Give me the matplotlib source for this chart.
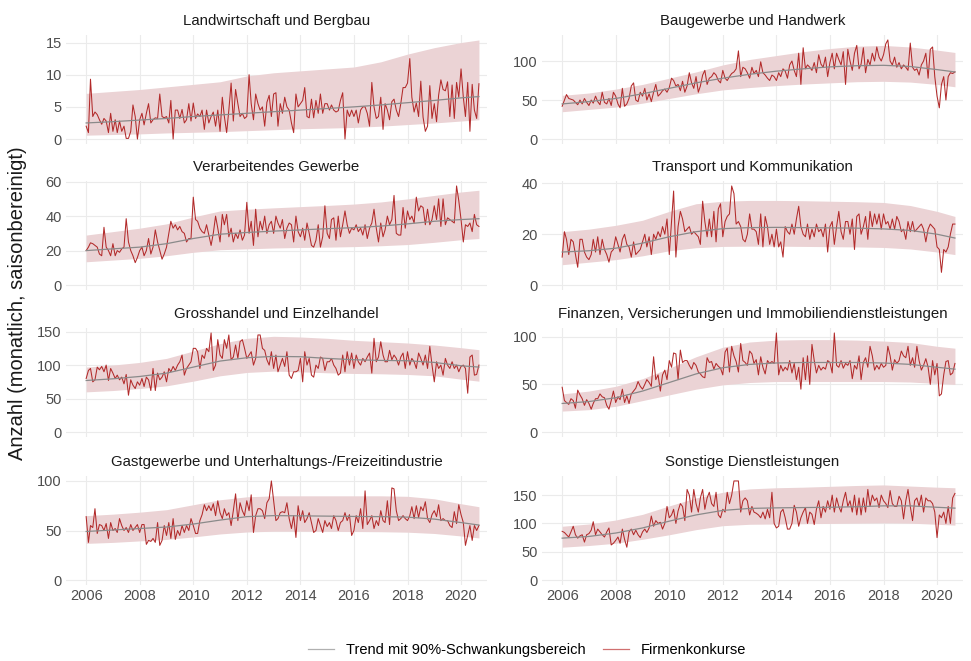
import numpy as np
import pandas as pd
import matplotlib
matplotlib.use("Agg")
import matplotlib.pyplot as plt
import matplotlib.dates as mdates
from matplotlib.ticker import MultipleLocator
from matplotlib.lines import Line2D

plt.rcParams['font.family'] = ['Liberation Sans', 'DejaVu Sans']

# --- Daten (monatlich, Jan 2006 - Sep 2020) ---
MONTHS = pd.date_range("2006-01-01", "2020-09-01", freq="MS")
# Stützstellen für Trend und Schwankungsbereich (jeweils Januar, plus Sep 2020)
KNOTS = list(pd.date_range("2006-01-01", "2020-01-01", freq="YS")) + [pd.Timestamp("2020-09-01")]

TITLES = [
    "Landwirtschaft und Bergbau",
    "Baugewerbe und Handwerk",
    "Verarbeitendes Gewerbe",
    "Transport und Kommunikation",
    "Grosshandel und Einzelhandel",
    "Finanzen, Versicherungen und Immobiliendienstleistungen",
    "Gastgewerbe und Unterhaltungs-/Freizeitindustrie",
    "Sonstige Dienstleistungen",
]

landwirtschaft = [
    2, 1, 9.3, 3.5, 4.2, 3.8, 3, 2.3, 3.2, 2.8, 1, 4,
    1.2, 3, 1, 2.8, 1.2, 2, 0.1, 0.1, 1.2, 5.3, 3.5, 0,
    3, 4, 2.2, 4, 5.5, 2.5, 3, 3.3, 3.2, 7, 3.5, 3.3,
    3.5, 2.5, 6, 0, 4.5, 4.5, 3.2, 4.6, 2.5, 3, 5.5, 2.8,
    5.6, 3.2, 3.9, 3.5, 4.5, 1.5, 4.5, 2.5, 3.5, 4.2, 2, 4.5,
    1.2, 6.5, 3.5, 1, 4.5, 8.7, 2.8, 7.7, 5.5, 3.5, 4, 3.2,
    3.5, 10, 5.5, 3, 7, 5.5, 4.5, 5, 2, 5.7, 6.8, 3.5,
    7, 7.2, 2, 5.5, 4, 6.5, 5, 4.5, 2.5, 1, 7, 5,
    5.5, 6, 8, 3.5, 3.3, 6.2, 3.3, 6, 4, 7, 4, 5.5,
    5.5, 4.5, 5.3, 4.5, 4.2, 4.4, 6, 7.2, 0, 4.5, 3.5, 4.5,
    3.5, 4.5, 2.5, 4.5, 5, 5, 4, 2, 8.8, 5, 3.2, 3.5,
    6.5, 1.5, 5.5, 4.5, 3, 5.8, 6.2, 4.5, 3.5, 5.5, 8, 8,
    8.7, 12.5, 6.5, 4.2, 5.6, 3.5, 9, 3.4, 1.2, 2, 8.3, 3.2,
    5.5, 2.7, 6.8, 9.2, 7.7, 7.5, 8.9, 3.5, 8.4, 3.2, 8.8, 6.5,
    10.9, 6.5, 3.5, 8.8, 1.2, 8.5, 4.5, 3.2, 8.6,
]
baugewerbe = [
    42, 50, 57, 52, 51, 50, 47, 44, 50, 45, 52, 47,
    43, 50, 46, 55, 48, 44, 60, 47, 45, 52, 43, 60,
    55, 45, 40, 65, 42, 45, 52, 68, 72, 50, 48, 60,
    55, 65, 50, 58, 48, 60, 70, 55, 58, 62, 64, 60,
    66, 78, 75, 68, 70, 62, 74, 60, 68, 85, 72, 65,
    80, 60, 68, 82, 88, 70, 78, 80, 85, 82, 75, 72,
    88, 78, 75, 80, 84, 86, 90, 113, 80, 92, 90, 85,
    78, 92, 84, 88, 80, 99, 85, 82, 78, 75, 82, 80,
    75, 85, 80, 90, 87, 78, 95, 100, 88, 80, 110, 70,
    117, 90, 95, 92, 88, 98, 85, 108, 96, 92, 105, 80,
    98, 110, 90, 110, 102, 95, 112, 70, 115, 100, 88, 110,
    120, 90, 96, 117, 85, 102, 95, 110, 100, 118, 105, 100,
    108, 122, 127, 100, 95, 105, 92, 98, 90, 95, 92, 88,
    123, 92, 88, 90, 82, 95, 100, 110, 78, 115, 118, 80,
    55, 40, 70, 80, 50, 80, 85, 84, 86,
]
verarbeitend = [
    20, 22, 24.5, 24, 23, 22, 18, 17, 33.5, 22, 20, 17,
    24, 17, 20, 19, 21, 22, 38.5, 25, 20, 17, 13, 16,
    20, 22, 17, 20, 27, 18, 22, 32, 25, 20, 15, 18,
    22, 30, 37, 33, 35, 32, 34, 31, 30, 25, 27, 27,
    51, 38, 37, 33, 31, 30, 35, 29, 23, 30, 40, 33,
    25, 41, 35, 41, 28, 33, 25, 30, 27, 32, 26, 29,
    48, 30, 37, 23, 44, 28, 37, 32, 40, 30, 35, 37,
    30, 40, 36, 33, 38, 27, 33, 36, 35, 25, 40, 31,
    28, 33, 26, 36, 30, 23, 22, 26, 35, 22, 28, 46,
    30, 27, 38, 39, 26, 40, 28, 35, 43, 35, 30, 33,
    32, 35, 31, 33, 29, 35, 27, 33, 36, 44, 33, 25,
    36, 28, 32, 40, 35, 38, 52, 30, 29, 29, 45, 33,
    43, 38, 40, 36, 51, 43, 46, 45, 35, 44, 35, 38,
    46, 38, 50, 34, 50, 35, 39, 38, 37, 36, 57.5, 49,
    38, 25, 35, 34, 36, 31, 41, 35, 34,
]
transport = [
    11, 21, 18, 12, 18, 17, 12, 7, 18, 18, 13, 11,
    10, 12, 18, 13, 19, 12, 18, 14, 12, 9, 13, 14,
    19, 16, 13, 18, 20, 16, 15, 11, 17, 12, 13, 14,
    17, 20, 15, 19, 12, 20, 18, 21, 19, 23, 20, 26,
    12, 25, 37, 11, 23, 29, 26, 21, 22, 23, 20, 21,
    20, 19, 16, 33, 25, 19, 26, 19, 29, 17, 30, 32,
    19, 25, 27, 28, 39, 36, 24, 25, 23, 18, 17, 20,
    28, 22, 22, 21, 16, 28, 15, 27, 23, 16, 20, 15,
    22, 15, 17, 11, 23, 21, 20, 24, 20, 26, 31, 23,
    20, 19, 24, 18, 22, 19, 24, 21, 22, 19, 24, 13,
    23, 25, 16, 23, 29, 21, 18, 25, 25, 20, 26, 14,
    27, 28, 20, 23, 27, 18, 29, 23, 28, 24, 28, 22,
    28, 24, 25, 22, 26, 22, 27, 25, 21, 22, 18, 25,
    21, 25, 21, 22, 23, 24, 22, 17, 22, 24, 23, 22,
    15, 14, 5, 14, 13, 15, 20, 24, 24,
]
handel = [
    80, 92, 95, 75, 78, 97, 93, 98, 90, 100, 77, 95,
    88, 80, 85, 78, 82, 72, 86, 55, 78, 70, 65, 75,
    70, 80, 68, 82, 78, 62, 95, 62, 88, 78, 82, 90,
    75, 95, 90, 98, 92, 100, 105, 115, 85, 95, 100, 105,
    125, 125, 120, 95, 115, 110, 125, 120, 148, 92, 100, 138,
    115, 110, 138, 125, 145, 108, 112, 130, 110, 135, 138, 125,
    110, 115, 120, 100, 110, 145, 145, 125, 122, 108, 100, 120,
    95, 115, 90, 100, 110, 98, 120, 85, 80, 90, 90, 92,
    110, 75, 120, 100, 110, 85, 82, 100, 95, 112, 110, 92,
    105, 105, 110, 100, 95, 85, 88, 115, 90, 120, 100, 118,
    95, 115, 105, 100, 110, 105, 112, 118, 88, 140, 105, 112,
    135, 115, 105, 105, 122, 108, 115, 110, 100, 112, 118, 95,
    120, 100, 110, 105, 95, 118, 110, 100, 115, 95, 128, 100,
    75, 105, 95, 100, 85, 110, 100, 95, 105, 95, 100, 90,
    98, 100, 95, 58, 112, 115, 85, 86, 100,
]
finanzen = [
    47, 33, 31, 29, 35, 33, 25, 44, 39, 35, 28, 34,
    30, 24, 30, 35, 35, 40, 37, 36, 28, 24, 33, 43,
    31, 37, 34, 45, 31, 38, 30, 40, 43, 46, 53, 48,
    45, 50, 55, 52, 48, 79, 55, 60, 43, 60, 65, 55,
    75, 68, 83, 82, 55, 86, 73, 75, 75, 70, 66, 73,
    70, 63, 61, 58, 57, 78, 73, 74, 66, 72, 69, 67,
    60, 84, 88, 63, 90, 80, 74, 63, 93, 75, 73, 70,
    85, 82, 72, 76, 60, 79, 68, 61, 75, 72, 74, 72,
    104, 60, 70, 64, 68, 65, 75, 62, 72, 55, 68, 45,
    78, 55, 80, 50, 92, 75, 62, 70, 65, 68, 66, 75,
    73, 62, 104, 70, 68, 75, 67, 72, 70, 75, 56, 70,
    66, 80, 55, 73, 78, 68, 90, 80, 65, 70, 66, 72,
    68, 70, 90, 80, 65, 76, 72, 75, 85, 80, 78, 90,
    70, 78, 68, 90, 75, 65, 70, 77, 68, 50, 75, 60,
    72, 38, 40, 60, 74, 75, 60, 62, 72,
]
gastgewerbe = [
    64, 38, 55, 53, 72, 47, 56, 55, 50, 57, 42, 58,
    50, 52, 48, 62, 55, 50, 53, 48, 56, 50, 53, 56,
    48, 56, 56, 36, 40, 39, 42, 38, 58, 35, 40, 55,
    45, 58, 42, 62, 41, 50, 45, 55, 48, 55, 50, 62,
    55, 47, 47, 60, 66, 76, 70, 75, 70, 77, 65, 80,
    68, 62, 72, 65, 68, 55, 70, 87, 60, 78, 70, 65,
    80, 70, 86, 48, 65, 72, 72, 70, 62, 78, 82, 100,
    80, 60, 62, 68, 69, 68, 78, 62, 52, 65, 43, 75,
    60, 70, 58, 62, 68, 58, 48, 50, 62, 55, 48, 60,
    54, 58, 52, 65, 60, 50, 58, 60, 68, 60, 66, 45,
    50, 65, 58, 72, 52, 90, 56, 60, 65, 52, 60, 55,
    70, 60, 58, 80, 56, 93, 92, 70, 60, 62, 65, 62,
    60, 65, 74, 62, 75, 63, 74, 70, 79, 62, 58, 66,
    70, 64, 76, 60, 62, 60, 60, 55, 53, 69, 57, 76,
    66, 58, 35, 45, 55, 40, 55, 50, 55,
]
sonstige = [
    86, 84, 80, 76, 85, 95, 80, 74, 78, 80, 67, 80,
    82, 88, 103, 80, 90, 85, 80, 76, 85, 92, 62, 65,
    70, 76, 65, 90, 72, 58, 85, 90, 80, 88, 80, 75,
    85, 90, 84, 92, 113, 95, 105, 100, 102, 90, 100, 130,
    110, 115, 125, 100, 122, 135, 130, 105, 160, 150, 120, 160,
    135, 120, 145, 160, 125, 145, 155, 135, 130, 155, 115, 110,
    125, 120, 155, 135, 150, 175, 175, 175, 120, 140, 145, 140,
    115, 130, 120, 118, 115, 110, 120, 108, 125, 110, 155, 100,
    92, 95, 120, 125, 110, 90, 90, 100, 132, 120, 95, 110,
    120, 128, 100, 120, 116, 98, 125, 140, 110, 130, 120, 140,
    125, 150, 120, 145, 130, 120, 140, 155, 130, 140, 120, 150,
    115, 145, 115, 145, 120, 160, 130, 150, 140, 145, 128, 150,
    140, 135, 128, 158, 135, 130, 130, 148, 140, 108, 140, 160,
    130, 105, 140, 145, 130, 150, 120, 145, 140, 140, 135, 120,
    75, 115, 110, 120, 100, 130, 100, 145, 153,
]

# Trend / unterer / oberer Rand je Sektor an den Stützstellen
trend_lw = [2.5, 2.7, 2.95, 3.2, 3.5, 3.75, 4.0, 4.25, 4.5, 4.75, 5.0, 5.3, 5.65, 6.0, 6.4, 6.6]
lo_lw = [0.6, 0.7, 0.8, 0.95, 1.05, 1.15, 1.3, 1.45, 1.6, 1.7, 1.8, 2.0, 2.25, 2.5, 2.8, 3.0]
hi_lw = [7.1, 7.4, 7.7, 8.1, 8.5, 8.9, 9.8, 10.3, 10.6, 10.9, 11.2, 12.0, 13.2, 14.2, 15.0, 15.4]

trend_bau = [45, 48, 52, 58, 65, 72, 78, 83, 87, 90, 92.5, 94, 94.5, 93, 89, 86]
lo_bau = [35, 38, 41, 46, 52, 58, 63, 66, 68.5, 70.5, 72, 73.5, 74, 73, 70, 67]
hi_bau = [56, 59, 64, 70, 78, 86, 95, 102, 107, 112, 116, 119, 120, 118, 114, 111]

trend_vg = [20, 21, 22, 24, 27, 29.5, 30.5, 31.3, 32, 32.7, 33.3, 34.2, 35.5, 37, 38, 38.5]
lo_vg = [13.5, 14.5, 15.5, 17, 19, 20.5, 21, 21.5, 21.8, 22, 22.3, 22.8, 23.5, 24.8, 26.3, 27]
hi_vg = [29, 31, 33, 35.5, 39.5, 43, 44, 44.8, 45.5, 46.2, 47, 48.2, 50, 52, 54, 55]

trend_tk = [13, 13.5, 14.5, 16.5, 19, 21, 22.2, 22.6, 22.7, 22.6, 22.5, 22.4, 22.1, 21.5, 20, 18.5]
lo_tk = [8, 9, 10, 11.5, 13.5, 14.7, 15.2, 15.3, 15.3, 15.2, 15.1, 15.0, 14.8, 14.2, 13, 12]
hi_tk = [21, 22, 23.5, 25.5, 29, 32, 33, 33.3, 33.3, 33.2, 33, 32.8, 32.5, 31.3, 29, 27]

trend_he = [77, 79.5, 83, 88, 97, 106, 111, 113, 112.5, 110, 108, 107, 106.5, 104, 99, 97]
lo_he = [60, 62, 65, 69, 76, 84, 89, 91, 90, 88.5, 87.5, 87, 86, 84, 79, 76]
hi_he = [97, 100, 104, 110, 121, 132, 140, 143, 142, 140, 137, 135, 133, 130, 126, 123]

trend_fi = [30, 32, 36, 43, 52, 61, 67.5, 71, 72.5, 73, 73, 73, 72.5, 71, 68, 66]
lo_fi = [22, 23.5, 27, 33, 39, 45, 49.5, 52, 53, 53, 53, 53, 53, 52.5, 51, 50]
hi_fi = [40, 43, 48, 56, 67, 79, 89, 94.5, 96.5, 97, 97, 96.5, 95.5, 94, 90, 88]

trend_ga = [49, 50.5, 52, 53.5, 56.5, 60.5, 64, 65, 64.8, 64.5, 64.2, 64, 63.5, 61.5, 58, 55.5]
lo_ga = [37, 38, 39.5, 41, 43.5, 46.5, 48.5, 49.3, 49.3, 49.2, 49, 48.8, 48.3, 47, 44.5, 42.5]
hi_ga = [65, 66.5, 68.5, 71, 76, 81, 84, 85, 85, 85, 85, 85, 84.5, 82, 77, 74]

trend_so = [74, 77, 83, 92, 104, 115, 123, 126.5, 127.5, 128, 128.5, 129.5, 131, 131, 128.5, 127]
lo_so = [58, 61, 65, 72, 80, 89, 96, 98.5, 99, 99.5, 100, 100.5, 101, 100.5, 98.5, 97]
hi_so = [95, 99, 106, 116, 131, 145, 155, 161, 163, 164, 165.5, 167, 168, 166, 164, 163]

SERIES = [landwirtschaft, baugewerbe, verarbeitend, transport,
          handel, finanzen, gastgewerbe, sonstige]
TRENDS = [trend_lw, trend_bau, trend_vg, trend_tk, trend_he, trend_fi, trend_ga, trend_so]
LOWER = [lo_lw, lo_bau, lo_vg, lo_tk, lo_he, lo_fi, lo_ga, lo_so]
UPPER = [hi_lw, hi_bau, hi_vg, hi_tk, hi_he, hi_fi, hi_ga, hi_so]
YSTEP = [5, 50, 20, 20, 50, 50, 50, 50]

# --- Layout ---
W, H = 971, 661
RED = "#b22a2a"
BAND = "#ebd3d5"
GREY = "#8a8a8a"
GRID = "#ebebeb"

fig = plt.figure(figsize=(W / 100, H / 100), dpi=100)

col_x = [66, 542]
col_w = 421
row_top = [35, 181, 328, 476]
row_h = 109

for i, title in enumerate(TITLES):
    r, c = divmod(i, 2)
    ax = fig.add_axes([col_x[c] / W, 1 - (row_top[r] + row_h) / H, col_w / W, row_h / H])
    vals = SERIES[i]

    ax.fill_between(KNOTS, LOWER[i], UPPER[i], color=BAND, lw=0, zorder=1)
    ax.plot(MONTHS, vals, color=RED, lw=0.75, zorder=2)
    ax.plot(KNOTS, TRENDS[i], color=GREY, lw=0.9, zorder=3)

    top = max(max(vals), max(UPPER[i]))
    pad = top * 0.05
    ax.set_ylim(-pad, top + pad)
    ax.set_xlim(pd.Timestamp("2005-04-01"), pd.Timestamp("2020-12-20"))

    ax.yaxis.set_major_locator(MultipleLocator(YSTEP[i]))
    ax.xaxis.set_major_locator(mdates.YearLocator(2))
    ax.xaxis.set_major_formatter(mdates.DateFormatter("%Y"))
    ax.grid(True, color=GRID, lw=0.8)
    ax.set_axisbelow(True)
    for s in ax.spines.values():
        s.set_visible(False)
    ax.tick_params(length=0, labelsize=10.5, labelcolor="#4d4d4d", pad=3)
    if r < 3:
        ax.tick_params(labelbottom=False)
    ax.set_title(title, fontsize=10.8, color="#1a1a1a", pad=7)

fig.text(18 / W, 1 - 303 / H, "Anzahl (monatlich, saisonbereinigt)",
         rotation=90, ha="center", va="center", fontsize=14.5, color="#1a1a1a")

handles = [Line2D([], [], color="#b0b0b0", lw=0.9),
           Line2D([], [], color="#d07070", lw=0.9)]
fig.legend(handles, ["Trend mit 90%-Schwankungsbereich", "Firmenkonkurse"],
           loc="center", bbox_to_anchor=(527 / W, 1 - 650 / H), ncol=2,
           frameon=False, fontsize=10.5, handlelength=1.8, columnspacing=1.2)

fig.savefig("out.png", dpi=100)
